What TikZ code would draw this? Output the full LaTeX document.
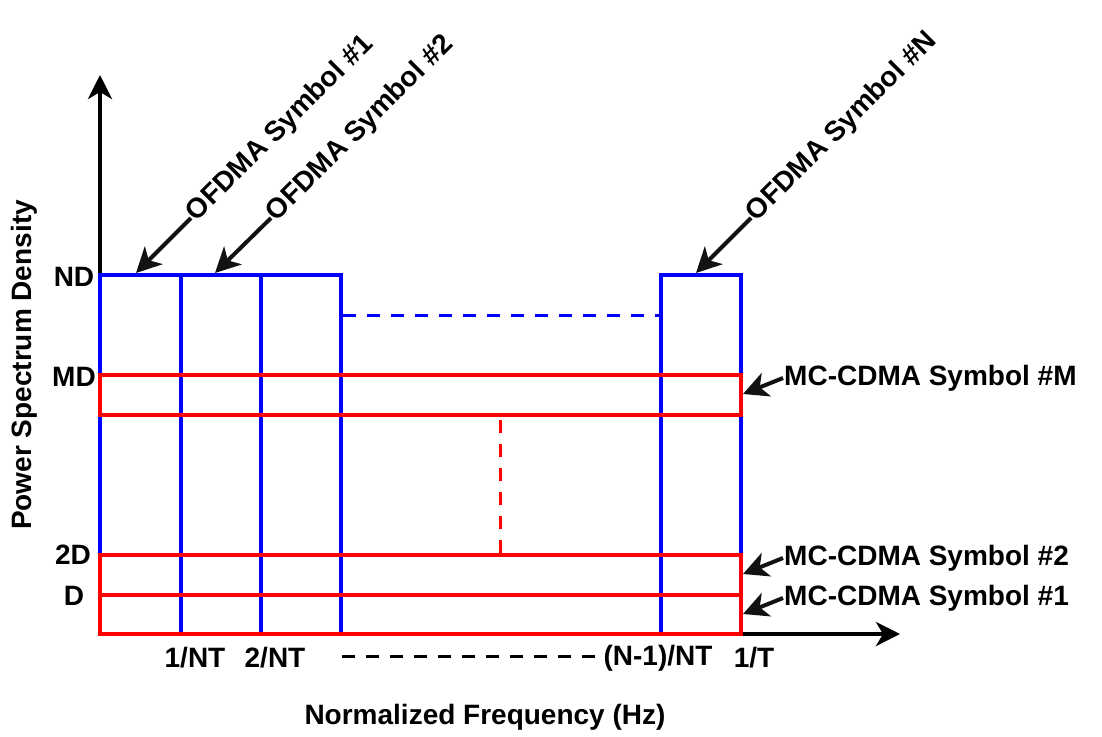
\documentclass[tikz,border=0pt]{standalone}
\usepackage{fontspec}
\setmainfont{Liberation Sans}
\usetikzlibrary{arrows.meta}
\begin{document}
\begin{tikzpicture}[x=1pt,y=-1pt,
  lbl/.style={font=\fontsize{28}{32}\selectfont\bfseries, inner sep=1pt, text=black},
  blu/.style={draw=blue, line width=4pt},
  rd/.style={draw=red, line width=4pt},
  ax/.style={draw=black, line width=4pt, -{Stealth[length=24pt,width=24pt,inset=7pt]}},
  ann/.style={draw=black!93, line width=4pt, -{Stealth[length=25pt,width=25pt,inset=7pt]}},
  dsh/.style={line width=3pt, dash pattern=on 13pt off 11pt}]
\useasboundingbox (0,0) rectangle (1102,736);
% axes
\coordinate (O) at (100,634);
\coordinate (ytip) at (100,75);
\coordinate (xtip) at (900,634);
\draw[ax] (O) -- (ytip);
\draw[ax] (O) -- (xtip);
% blue OFDMA symbols
\draw[blu] (100,275) rectangle (181,634);
\draw[blu] (181,275) rectangle (261,634);
\draw[blu] (261,275) rectangle (341,634);
\draw[blu] (661,275) rectangle (741,634);
\draw[blu, dsh] (343,315) -- (661,315);
% red MC-CDMA symbols
\draw[rd] (100,375) rectangle (741,415);
\draw[rd] (100,555) rectangle (741,595);
\draw[rd] (100,595) rectangle (741,634);
\draw[rd, dsh] (500,420) -- (500,555);
% x-axis dashed
\draw[black, dsh] (342,656) -- (598,656);
% y labels
\node[lbl] (nd) at (74,277) {ND};
\node[lbl] (md) at (74,377) {MD};
\node[lbl] (d2) at (73,555) {2D};
\node[lbl] (d1) at (74,596) {D};
% x labels
\node[lbl] (f1) at (195,658) {1/NT};
\node[lbl] (f2) at (275,658) {2/NT};
\node[lbl] (fn) at (658,658) {(N-1)/NT};
\node[lbl] (ft) at (754,658) {1/T};
% axis titles
\node[lbl] (xt) at (485,717) {Normalized Frequency (Hz)};
\node[lbl, rotate=90] (yt) at (24,365) {Power Spectrum Density};
% OFDMA annotations
\node[lbl, rotate=45, anchor=west] (o1) at (191,218) {OFDMA Symbol \#1};
\node[lbl, rotate=45, anchor=west] (o2) at (271,218) {OFDMA Symbol \#2};
\node[lbl, rotate=45, anchor=west] (on) at (751,218) {OFDMA Symbol \#N};
\coordinate (t1) at (136,273);
\coordinate (t2) at (215,273);
\coordinate (tn) at (696,273);
\draw[ann] (o1.west) -- (t1);
\draw[ann] (o2.west) -- (t2);
\draw[ann] (on.west) -- (tn);
% MC-CDMA annotations
\node[lbl, anchor=west] (mm) at (783,378) {MC-CDMA Symbol \#M};
\node[lbl, anchor=west] (m2) at (783,558) {MC-CDMA Symbol \#2};
\node[lbl, anchor=west] (m1) at (783,598) {MC-CDMA Symbol \#1};
\coordinate (sm) at (743,394);
\coordinate (s2) at (743,574);
\coordinate (s1) at (743,614);
\draw[ann] (mm.west) -- (sm);
\draw[ann] (m2.west) -- (s2);
\draw[ann] (m1.west) -- (s1);
\end{tikzpicture}
\end{document}
